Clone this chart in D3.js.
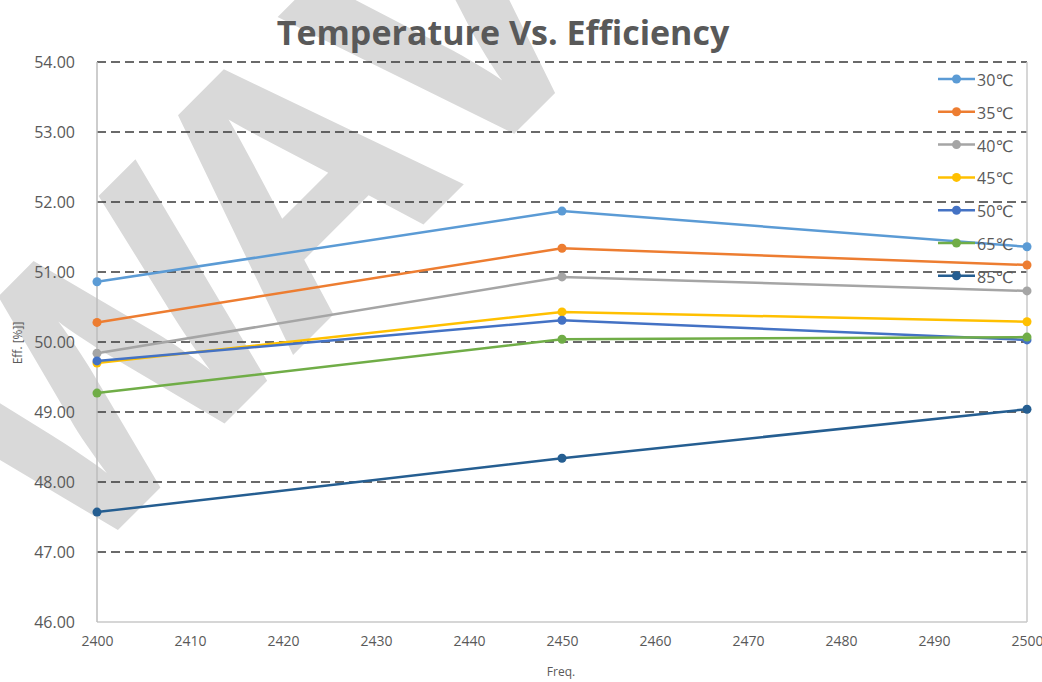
<!DOCTYPE html>
<html>
<head>
<meta charset="utf-8">
<script src="https://cdn.jsdelivr.net/npm/d3@7"></script>
<style>
  body { margin: 0; background: #fff; }
  svg { display: block; font-family: "Open Sans", "DejaVu Sans", sans-serif; }
</style>
</head>
<body>
<script>
let width = 1042,
  height = 682,
  marginLeft = 97,
  marginRight = 15,
  marginTop = 62,
  marginBottom = 60;

// data
let freqs = [2400, 2450, 2500];
let seriesNames = ["30℃", "35℃", "40℃", "45℃", "50℃", "65℃", "85℃"];
let seriesColors = ["#5B9BD5", "#ED7D31", "#A5A5A5", "#FFC000", "#4472C4", "#70AD47", "#255E91"];
let eff30 = [50.86, 51.87, 51.36];
let eff35 = [50.28, 51.34, 51.10];
let eff40 = [49.84, 50.93, 50.73];
let eff45 = [49.70, 50.43, 50.29];
let eff50 = [49.73, 50.31, 50.03];
let eff65 = [49.27, 50.04, 50.07];
let eff85 = [47.57, 48.34, 49.04];
let yTicks = [46, 47, 48, 49, 50, 51, 52, 53, 54];
let xTicks = [2400, 2410, 2420, 2430, 2440, 2450, 2460, 2470, 2480, 2490, 2500];

let allSeries = [eff30, eff35, eff40, eff45, eff50, eff65, eff85];

let svg = d3.select("body").append("svg")
  .attr("width", width)
  .attr("height", height);

let x = d3.scaleLinear().domain([2400, 2500]).range([marginLeft, width - marginRight]);
let y = d3.scaleLinear().domain([46, 54]).range([height - marginBottom, marginTop]);

// watermark, letters placed along a -45deg baseline
let wmLetters = ["W", "A", "V"];
let wmOffsets = [-186, 77, 298];
let wm = svg.append("g").attr("transform", "translate(324,324) rotate(-45)");
wmLetters.forEach((ch, i) => {
  wm.append("text")
    .attr("x", wmOffsets[i])
    .attr("y", 0)
    .attr("text-anchor", "middle")
    .attr("font-family", "'Open Sans', sans-serif")
    .attr("font-weight", "bold")
    .attr("font-size", 350)
    .attr("fill", "#d9d9d9")
    .text(ch);
});

// gridlines
svg.append("g")
  .selectAll("line")
  .data(yTicks.filter(d => d > 46))
  .enter()
  .append("line")
  .attr("x1", x(2400))
  .attr("x2", x(2500))
  .attr("y1", d => y(d))
  .attr("y2", d => y(d))
  .attr("stroke", "#3a3a3a")
  .attr("stroke-width", 1.3)
  .attr("stroke-dasharray", "9,5");

// frame
svg.append("line")
  .attr("x1", x(2400)).attr("x2", x(2500))
  .attr("y1", y(46)).attr("y2", y(46))
  .attr("stroke", "#c8c8c8").attr("stroke-width", 1.5);
svg.append("line")
  .attr("x1", x(2400)).attr("x2", x(2400))
  .attr("y1", y(46)).attr("y2", y(54))
  .attr("stroke", "#bdbdbd").attr("stroke-width", 1.5);
svg.append("line")
  .attr("x1", x(2500)).attr("x2", x(2500))
  .attr("y1", y(46)).attr("y2", y(54))
  .attr("stroke", "#c8c8c8").attr("stroke-width", 1.5);

// y axis
let yAxis = d3.axisLeft(y).tickValues(yTicks).tickFormat(d3.format(".2f")).tickSize(0).tickPadding(22);
let gy = svg.append("g").attr("transform", `translate(${marginLeft},0)`).call(yAxis);
gy.select(".domain").remove();
gy.selectAll("text")
  .attr("fill", "#595959")
  .style("font-size", "16px")
  .style("font-family", "'Open Sans', sans-serif");

// x axis
let xAxis = d3.axisBottom(x).tickValues(xTicks).tickFormat(d3.format("d")).tickSize(0).tickPadding(14);
let gx = svg.append("g").attr("transform", `translate(0,${height - marginBottom})`).call(xAxis);
gx.select(".domain").remove();
gx.selectAll("text")
  .attr("fill", "#595959")
  .style("font-size", "14px")
  .style("font-family", "'Open Sans', sans-serif");

// title
svg.append("text")
  .attr("x", 503)
  .attr("y", 45)
  .attr("text-anchor", "middle")
  .attr("fill", "#595959")
  .style("font-size", "34px")
  .style("font-weight", "bold")
  .text("Temperature Vs. Efficiency");

// axis titles
svg.append("text")
  .attr("x", 561)
  .attr("y", 676)
  .attr("text-anchor", "middle")
  .attr("fill", "#595959")
  .style("font-size", "12px")
  .text("Freq.");

svg.append("text")
  .attr("transform", "translate(22,343) rotate(-90)")
  .attr("text-anchor", "middle")
  .attr("fill", "#595959")
  .style("font-size", "12px")
  .text("Eff. [%]]");

// series lines
let line = d3.line()
  .x((d, i) => x(freqs[i]))
  .y(d => y(d));

allSeries.forEach((vals, k) => {
  let g = svg.append("g");
  g.append("path")
    .datum(vals)
    .attr("d", line)
    .attr("fill", "none")
    .attr("stroke", seriesColors[k])
    .attr("stroke-width", 2.5);
  g.selectAll("circle")
    .data(vals)
    .enter()
    .append("circle")
    .attr("cx", (d, i) => x(freqs[i]))
    .attr("cy", d => y(d))
    .attr("r", 4.5)
    .attr("fill", seriesColors[k]);
});

// legend
let legend = svg.append("g").attr("transform", "translate(938,79)");
seriesNames.forEach((name, k) => {
  let row = legend.append("g").attr("transform", `translate(0,${k * 32.8})`);
  row.append("line")
    .attr("x1", 0).attr("x2", 37)
    .attr("y1", 0).attr("y2", 0)
    .attr("stroke", seriesColors[k])
    .attr("stroke-width", 2.5);
  row.append("circle")
    .attr("cx", 18.5).attr("cy", 0).attr("r", 4.5)
    .attr("fill", seriesColors[k]);
  row.append("text")
    .attr("x", 39)
    .attr("y", 7)
    .attr("fill", "#595959")
    .style("font-size", "16px")
    .text(name);
});
</script>
</body>
</html>
